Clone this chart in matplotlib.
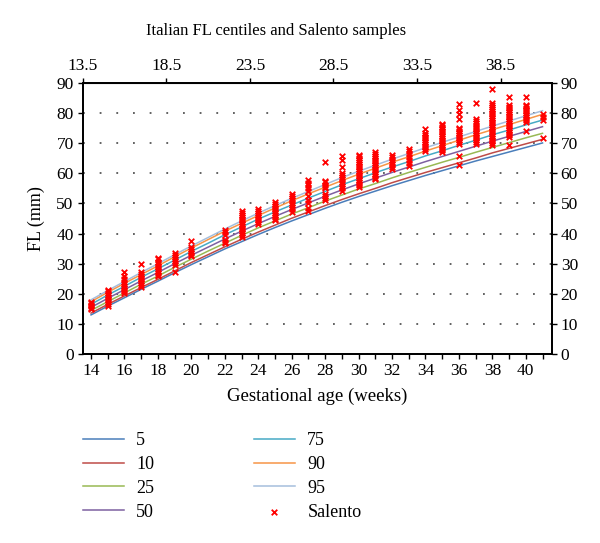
import matplotlib
matplotlib.use("Agg")
import matplotlib.pyplot as plt

plt.rcParams['font.family'] = ['Liberation Serif', 'DejaVu Serif']
plt.rcParams['lines.scale_dashes'] = False

weeks = [14, 15, 16, 17, 18, 19, 20, 21, 22, 23, 24, 25, 26, 27,
         28, 29, 30, 31, 32, 33, 34, 35, 36, 37, 38, 39, 40, 41]

p5 = [13.0, 15.9, 18.7, 21.5, 24.2, 27.0, 29.7, 32.3, 34.9, 37.3, 39.7, 42.0, 44.2, 46.3,
      48.4, 50.4, 52.3, 54.1, 55.9, 57.6, 59.3, 60.9, 62.5, 64.1, 65.6, 67.1, 68.6, 70.1]
p10 = [13.6, 16.5, 19.3, 22.1, 24.8, 27.6, 30.4, 33.0, 35.6, 38.1, 40.5, 42.8, 45.1, 47.2,
       49.3, 51.3, 53.2, 55.0, 56.9, 58.6, 60.3, 61.9, 63.5, 65.1, 66.8, 68.3, 69.8, 71.3]
p25 = [14.5, 17.4, 20.3, 23.2, 25.9, 28.8, 31.5, 34.2, 36.8, 39.4, 41.9, 44.2, 46.5, 48.6,
       50.8, 52.8, 54.8, 56.6, 58.5, 60.3, 62.0, 63.7, 65.3, 67.0, 68.6, 70.2, 71.8, 73.3]
p50 = [15.5, 18.5, 21.4, 24.3, 27.1, 30.0, 32.8, 35.5, 38.2, 40.8, 43.3, 45.7, 48.0, 50.2,
       52.4, 54.5, 56.5, 58.4, 60.3, 62.1, 63.9, 65.6, 67.3, 69.0, 70.7, 72.3, 73.9, 75.5]
p75 = [16.5, 19.6, 22.5, 25.5, 28.3, 31.2, 34.1, 36.8, 39.6, 42.2, 44.8, 47.2, 49.5, 51.8,
       54.0, 56.2, 58.2, 60.2, 62.1, 63.9, 65.8, 67.5, 69.3, 71.0, 72.8, 74.4, 76.1, 77.7]
p90 = [17.4, 20.5, 23.5, 26.4, 29.3, 32.3, 35.2, 38.0, 40.8, 43.4, 46.0, 48.5, 50.9, 53.2,
       55.4, 57.6, 59.7, 61.7, 63.7, 65.5, 67.4, 69.2, 71.0, 72.8, 74.5, 76.2, 77.9, 79.6]
p95 = [18.0, 21.1, 24.1, 27.1, 30.0, 33.0, 35.9, 38.7, 41.5, 44.2, 46.8, 49.3, 51.7, 54.0,
       56.3, 58.6, 60.7, 62.7, 64.7, 66.6, 68.5, 70.3, 72.1, 73.9, 75.7, 77.4, 79.1, 80.8]

centile_labels = ['5', '10', '25', '50', '75', '90', '95']
centile_colors = ['#4A7EBB', '#BE4B48', '#98B954', '#7D60A0', '#46AAC5', '#F69546', '#A5BEDD']

salento_weeks = [14, 15, 16, 17, 18, 19, 20, 22, 23, 24, 25, 26, 27, 28, 29, 30, 31,
                 32, 33, 34, 35, 36, 37, 38, 39, 40, 41]
salento_fl = [
    [14.8, 15.3, 15.8, 16.3, 16.8, 17.3],
    [16.0, 16.6, 17.2, 17.8, 18.4, 19.0, 19.6, 20.2, 20.8, 21.2],
    [20.2, 20.8, 21.4, 22.0, 22.6, 23.2, 23.8, 25.0, 26.0, 27.2],
    [22.4, 23.0, 23.6, 24.2, 24.8, 25.4, 26.0, 26.6, 27.2, 29.8],
    [25.8, 26.4, 27.0, 27.6, 28.2, 28.8, 29.4, 30.0, 30.6, 31.4, 32.0],
    [27.2, 29.5, 30.2, 30.9, 31.6, 32.3, 33.0, 33.7],
    [32.4, 33.0, 33.6, 34.2, 34.8, 35.5, 37.4],
    [36.8, 37.3, 37.8, 39.6, 40.4, 41.2],
    [39.0, 39.6, 40.2, 40.8, 41.4, 42.0, 42.6, 43.2, 43.8, 44.4, 45.0, 45.6, 46.3, 47.0, 47.5],
    [43.2, 43.8, 44.4, 45.0, 45.6, 46.2, 46.8, 47.4, 48.3],
    [44.4, 45.0, 45.6, 46.2, 46.8, 47.4, 48.0, 48.6, 49.2, 49.8, 50.5],
    [47.2, 48.0, 48.8, 49.5, 50.2, 51.0, 51.8, 52.5, 53.3],
    [47.4, 48.5, 50.0, 51.2, 52.5, 54.0, 55.2, 56.0, 56.8, 57.8],
    [51.0, 51.8, 52.5, 53.2, 55.0, 55.6, 56.2, 57.0, 57.6, 63.8],
    [54.3, 55.0, 55.8, 56.5, 57.2, 58.0, 58.8, 59.5, 60.2, 62.2, 64.6, 65.6],
    [55.4, 56.0, 56.6, 57.2, 57.8, 58.4, 59.0, 59.6, 60.2, 60.8, 61.4, 62.0, 62.6, 63.2,
     63.8, 64.4, 65.0, 65.6, 66.0],
    [58.0, 58.6, 59.2, 59.8, 60.4, 61.0, 61.6, 62.2, 62.8, 63.4, 64.0, 64.6, 65.2, 65.8,
     66.4, 67.0],
    [61.4, 62.2, 63.0, 63.8, 64.6, 65.4, 66.0],
    [62.6, 63.4, 64.4, 65.5, 66.5, 67.4, 68.2],
    [67.4, 68.0, 68.6, 69.2, 69.8, 70.4, 71.0, 71.6, 72.2, 72.8, 73.4, 74.6],
    [67.0, 67.6, 68.2, 68.8, 69.4, 70.0, 70.6, 71.2, 71.8, 72.4, 73.0, 73.6, 74.2, 74.8,
     75.4, 76.0, 76.5],
    [62.8, 65.8, 69.8, 70.4, 71.0, 71.6, 72.2, 72.8, 73.4, 74.0, 74.6, 75.2, 78.0, 79.6,
     81.0, 83.0],
    [69.8, 70.4, 71.0, 71.6, 72.2, 72.8, 73.4, 74.0, 74.6, 75.2, 75.8, 76.6, 77.4, 78.1, 83.4],
    [69.4, 70.0, 70.6, 71.2, 71.8, 72.4, 73.0, 73.6, 74.2, 74.8, 75.4, 76.0, 76.6, 77.2,
     77.8, 78.4, 79.0, 79.6, 80.2, 80.8, 81.4, 82.0, 82.6, 83.5, 88.0],
    [69.3, 72.0, 72.6, 73.2, 73.8, 74.4, 75.0, 75.6, 76.2, 76.8, 77.4, 78.0, 78.6, 79.2,
     79.8, 80.4, 81.0, 81.6, 82.2, 82.6, 85.4],
    [74.2, 77.0, 77.6, 78.2, 78.8, 79.4, 80.0, 80.6, 81.2, 81.8, 82.3, 82.8, 85.4],
    [71.6, 77.8, 78.8, 79.6],
]

y_ticks = [0, 10, 20, 30, 40, 50, 60, 70, 80, 90]
bottom_ticks = [14, 16, 18, 20, 22, 24, 26, 28, 30, 32, 34, 36, 38, 40]
top_ticks = [13.5, 18.5, 23.5, 28.5, 33.5, 38.5]

fig = plt.figure(figsize=(6.0, 5.43), dpi=100)
ax = fig.add_axes([0.1378, 0.348, 0.7817, 0.4991])

series = [p5, p10, p25, p50, p75, p90, p95]
handles = []
for vals, lab, col in zip(series, centile_labels, centile_colors):
    h, = ax.plot(weeks, vals, color=col, lw=1.1, label=lab, zorder=2)
    handles.append(h)

sx, sy = [], []
for w, vals in zip(salento_weeks, salento_fl):
    for v in vals:
        sx.append(w)
        sy.append(v)
sc = ax.scatter(sx, sy, marker='x', color='#FF0000', s=16, linewidths=1.3, zorder=3,
                label='Salento')

ax.set_xlim(13.5, 41.55)
ax.set_ylim(0, 90)
ax.set_yticks(y_ticks)
ax.set_xticks(bottom_ticks)
ax.set_xticks(list(range(14, 42)), minor=True)
ax.yaxis.grid(True, color='#555555', linestyle=(0, (1.3, 10.7)), linewidth=1.3)
ax.set_axisbelow(True)

for sp in ax.spines.values():
    sp.set_linewidth(1.3)
    sp.set_color('black')

ax.tick_params(axis='both', which='both', direction='out', length=3.5, width=1.0,
               labelsize=12.5, pad=3)
ax.tick_params(axis='x', which='minor', length=3.5)

ax2 = ax.twinx()
ax2.set_ylim(0, 90)
ax2.set_yticks(y_ticks)
ax2.tick_params(axis='y', direction='out', length=3.5, width=1.0, labelsize=12.5, pad=3)
for sp in ax2.spines.values():
    sp.set_linewidth(1.3)

ax3 = ax.secondary_xaxis('top')
ax3.set_xticks(top_ticks)
ax3.set_xticklabels([f'{t:.1f}' for t in top_ticks])
ax3.tick_params(axis='x', direction='out', length=3.5, width=1.0, labelsize=12.5, pad=3)

ax.set_xlabel('Gestational age (weeks)', fontsize=13.5, labelpad=6)
ax.set_ylabel('FL (mm)', fontsize=13, labelpad=8)
fig.text(276 / 600, 1 - 31 / 543, 'Italian FL centiles and Salento samples', fontsize=12,
         ha='center', va='center')

leg_kw = dict(loc='upper left', frameon=False, fontsize=13, handlelength=2.25,
              handletextpad=0.7, labelspacing=0.38, borderpad=0, borderaxespad=0)
leg1 = fig.legend(handles[:4], centile_labels[:4],
                  bbox_to_anchor=(83 / 600, 1 - 432 / 543), **leg_kw)
leg2 = fig.legend(handles[4:] + [sc], centile_labels[4:] + ['Salento'],
                  bbox_to_anchor=(254 / 600, 1 - 432 / 543), scatterpoints=1, **leg_kw)

fig.savefig('out.png', dpi=100)
